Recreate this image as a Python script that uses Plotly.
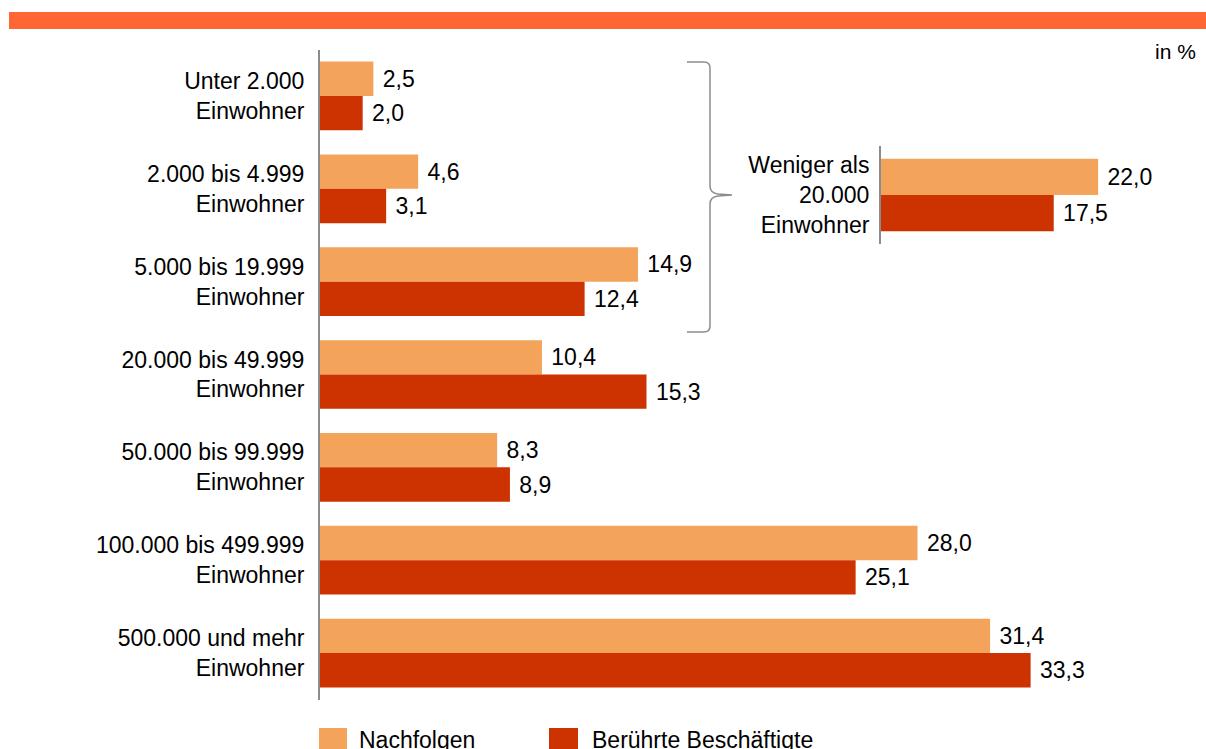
import plotly.graph_objects as go

# data
categories = [
    "Unter 2.000<br>Einwohner",
    "2.000 bis 4.999<br>Einwohner",
    "5.000 bis 19.999<br>Einwohner",
    "20.000 bis 49.999<br>Einwohner",
    "50.000 bis 99.999<br>Einwohner",
    "100.000 bis 499.999<br>Einwohner",
    "500.000 und mehr<br>Einwohner",
]
nachfolgen = [2.5, 4.6, 14.9, 10.4, 8.3, 28.0, 31.4]
beschaeftigte = [2.0, 3.1, 12.4, 15.3, 8.9, 25.1, 33.3]

inset_category = ["Weniger als<br>20.000<br>Einwohner"]
inset_nachfolgen = [22.0]
inset_beschaeftigte = [17.5]

series_names = ["Nachfolgen", "Berührte Beschäftigte"]

C_LIGHT = "#F4A35A"
C_DARK = "#CC3300"
C_TOP = "#FF6633"
C_AXIS = "#8C8C8C"
FONT = "Liberation Sans, Arial, sans-serif"
FS = 23

W, H = 1206, 749


def px_x(x):
    return x / W


def px_y(y):
    return (H - y) / H


def de(v):
    return "\u00a0" + f"{v:.1f}".replace(".", ",")


fig = go.Figure()

for vals, col, name in [(nachfolgen, C_LIGHT, series_names[0]), (beschaeftigte, C_DARK, series_names[1])]:
    fig.add_trace(go.Bar(
        x=vals, y=categories, orientation="h", name=name,
        marker=dict(color=col, line=dict(width=0)),
        text=[de(v) for v in vals], textposition="outside",
        textfont=dict(size=FS, color="black", family=FONT),
        constraintext="none", cliponaxis=False,
        xaxis="x", yaxis="y", showlegend=False,
    ))

for vals, col, name in [(inset_nachfolgen, C_LIGHT, series_names[0]), (inset_beschaeftigte, C_DARK, series_names[1])]:
    fig.add_trace(go.Bar(
        x=vals, y=inset_category, orientation="h", name=name,
        marker=dict(color=col, line=dict(width=0)),
        text=[de(v) for v in vals], textposition="outside",
        textfont=dict(size=FS, color="black", family=FONT),
        constraintext="none", cliponaxis=False,
        xaxis="x2", yaxis="y2", showlegend=False,
    ))

shapes = [
    # orange band at top
    dict(type="rect", xref="paper", yref="paper",
         x0=px_x(9), x1=1.0, y0=px_y(29), y1=px_y(12),
         fillcolor=C_TOP, line=dict(width=0)),
    # legend squares
    dict(type="rect", xref="paper", yref="paper",
         x0=px_x(319), x1=px_x(347), y0=px_y(756), y1=px_y(728),
         fillcolor=C_LIGHT, line=dict(width=0)),
    dict(type="rect", xref="paper", yref="paper",
         x0=px_x(549), x1=px_x(578), y0=px_y(756), y1=px_y(728),
         fillcolor=C_DARK, line=dict(width=0)),
]

# curly brace grouping the first three categories
pts = [
    ("M", [(687, 62)]), ("L", [(704, 62)]), ("Q", [(710, 62), (710, 68)]),
    ("L", [(710, 186)]), ("Q", [(710, 193), (718, 194)]), ("L", [(732, 195)]),
    ("L", [(718, 196)]), ("Q", [(710, 197), (710, 204)]),
    ("L", [(710, 326)]), ("Q", [(710, 332), (704, 332)]), ("L", [(687, 332)]),
]
path = " ".join(cmd + " " + " ".join(f"{px_x(x):.5f},{px_y(y):.5f}" for x, y in p) for cmd, p in pts)
shapes.append(dict(type="path", xref="paper", yref="paper", path=path,
                   line=dict(color=C_AXIS, width=1.5)))

annotations = [
    dict(text="in %", x=px_x(1198), y=px_y(51), xref="paper", yref="paper",
         xanchor="right", yanchor="middle", showarrow=False,
         font=dict(size=21, color="black", family=FONT)),
    dict(text=series_names[0], x=px_x(357), y=px_y(740), xref="paper", yref="paper",
         xanchor="left", yanchor="middle", showarrow=False,
         font=dict(size=FS, color="black", family=FONT)),
    dict(text=series_names[1], x=px_x(590), y=px_y(740), xref="paper", yref="paper",
         xanchor="left", yanchor="middle", showarrow=False,
         font=dict(size=FS, color="black", family=FONT)),
]

fig.update_layout(
    width=W, height=H,
    margin=dict(l=0, r=0, t=0, b=0),
    paper_bgcolor="white", plot_bgcolor="rgba(0,0,0,0)",
    barmode="group", bargap=0.26, bargroupgap=0,
    font=dict(family=FONT, size=FS, color="black"),
    xaxis=dict(domain=[px_x(320), px_x(320 + 40 * 21.34)], range=[0, 40],
               visible=False, anchor="y"),
    yaxis=dict(domain=[px_y(699.5), px_y(49.5)], categoryorder="array",
               categoryarray=categories, autorange="reversed",
               showline=True, linecolor=C_AXIS, linewidth=2,
               showgrid=False, zeroline=False, ticks="",
               ticklabelstandoff=9, anchor="x",
               tickfont=dict(size=FS, color="black", family=FONT)),
    xaxis2=dict(domain=[px_x(881), px_x(881 + 30 * 9.87)], range=[0, 30],
                visible=False, anchor="y2"),
    yaxis2=dict(domain=[px_y(244), px_y(146)], autorange="reversed",
                showline=True, linecolor=C_AXIS, linewidth=2,
                showgrid=False, zeroline=False, ticks="",
                ticklabelstandoff=5, anchor="x2",
                tickfont=dict(size=FS, color="black", family=FONT)),
    shapes=shapes,
    annotations=annotations,
    showlegend=False,
)

fig.write_html("out.html", config={"displayModeBar": False},
               post_script="document.body.style.margin='0';document.body.style.overflow='hidden';")
